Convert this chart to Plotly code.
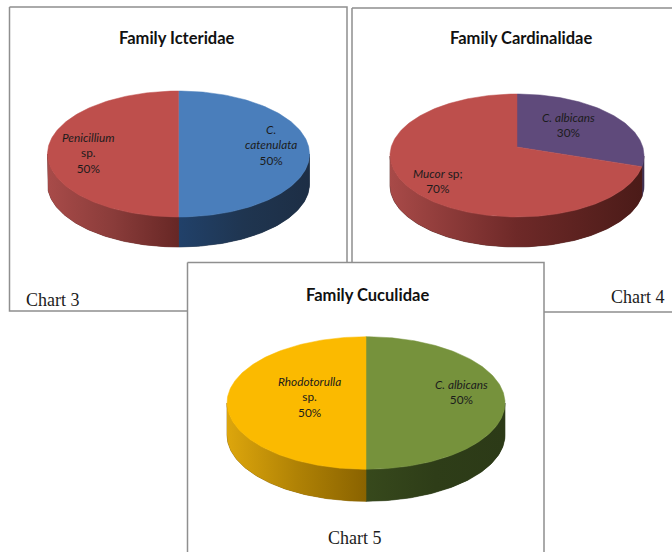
import math
import plotly.graph_objects as go

# ---------- data ----------
chart_titles = ["Family Icteridae", "Family Cardinalidae", "Family Cuculidae"]
chart_captions = ["Chart 3", "Chart 4", "Chart 5"]
icteridae_labels = ["C.<br>catenulata", "Penicillium<br>sp."]
icteridae_values = [50, 50]
cardinalidae_labels = ["C. albicans", "Mucor"]
cardinalidae_values = [30, 70]
cuculidae_labels = ["C. albicans", "Rhodotorulla<br>sp."]
cuculidae_values = [50, 50]

# ---------- styles and layout (page pixels) ----------
W, H = 672, 552
FRAME = "#8f8f8f"
TEXT = "#1c1c1c"
TITLE_FONT = "Lato"
SERIF = "Liberation Serif"

charts = [
    dict(frame=(9.5, 7, 347, 311), cx=178.5, cy=154, rx=131, ry=63, apex=154, depth=30,
         values=icteridae_values, colors=["#4A7EBB", "#BE4F4C"],
         walls=[["#21416A", "#1F3550", "#1D2E45"], ["#A84B49", "#8A3C3A", "#672725"]]),
    dict(frame=(352, 8, 680, 312), cx=517, cy=155.5, rx=127, ry=61.5, apex=147, depth=30,
         values=cardinalidae_values, colors=["#5F4A7B", "#BD4F4C"],
         walls=[["#4A3A60", "#3A2C4C"], ["#A84A48", "#6E2928", "#4B1B18"]]),
    dict(frame=(187.5, 262.5, 544, 560), cx=366, cy=403, rx=139, ry=66.3, apex=403, depth=32,
         values=cuculidae_values, colors=["#76923C", "#FBBA00"],
         walls=[["#37491C", "#2E3D18", "#2C3A17"], ["#DDA60C", "#B08205", "#8A6300"]]),
]


def rim_point(c, theta):
    """Point where a ray at pie angle theta (clockwise from top) leaves the ellipse."""
    dx, dy = math.sin(theta) * c["rx"], -math.cos(theta) * c["ry"]
    ox, oy = 0.0, c["apex"] - c["cy"]
    A = (dx / c["rx"]) ** 2 + (dy / c["ry"]) ** 2
    B = 2 * (ox * dx / c["rx"] ** 2 + oy * dy / c["ry"] ** 2)
    C = (ox / c["rx"]) ** 2 + (oy / c["ry"]) ** 2 - 1
    t = (-B + math.sqrt(B * B - 4 * A * C)) / (2 * A)
    return c["cx"] + ox + t * dx, c["cy"] + oy + t * dy


def poly(xs, ys, **kw):
    return go.Scatter(x=xs, y=ys, mode="lines", fill="toself", hoverinfo="skip",
                      showlegend=False, **kw)


def scale(cols):
    return [[i / (len(cols) - 1), col] for i, col in enumerate(cols)]


fig = go.Figure()

for c in charts:
    x0, y0, x1, y1 = c["frame"]
    fig.add_trace(poly([x0, x1, x1, x0, x0], [y0, y0, y1, y1, y0],
                       fillcolor="white", line=dict(color=FRAME, width=1.5)))
    total = sum(c["values"])
    start = 0.0
    arcs = []
    for v in c["values"]:
        end = start + v / total * 2 * math.pi
        n = max(8, int(v * 3))
        arcs.append([rim_point(c, start + (end - start) * i / n) for i in range(n + 1)])
        start = end
    # side walls first: a dark backing closes the seam between neighbouring gradients
    for arc, cols in zip(arcs, c["walls"]):
        low = [p for p in arc if p[1] >= c["cy"]]
        if len(low) < 2:
            continue
        xs = [p[0] for p in low] + [p[0] for p in reversed(low)]
        ys = [p[1] for p in low] + [p[1] + c["depth"] for p in reversed(low)]
        xs.append(xs[0]); ys.append(ys[0])
        fig.add_trace(poly(xs, ys, fillcolor=cols[-1], line=dict(color=cols[-1], width=0.6)))
        fig.add_trace(poly(xs, ys, line=dict(width=0),
                           fillgradient=dict(type="horizontal", colorscale=scale(cols))))
    # top faces
    for arc, col in zip(arcs, c["colors"]):
        xs = [c["cx"]] + [p[0] for p in arc] + [c["cx"]]
        ys = [c["apex"]] + [p[1] for p in arc] + [c["apex"]]
        fig.add_trace(poly(xs, ys, fillcolor=col, line=dict(color=col, width=0.5)))


def label(x, y, text, size=11.8, family=TITLE_FONT, color=TEXT, anchor="center"):
    fig.add_annotation(x=x, y=y, text=text, showarrow=False, xanchor=anchor, yanchor="middle",
                       align="center", font=dict(family=family, size=size, color=color))


# titles
label(177, 38, f"<b>{chart_titles[0]}</b>", size=16.5, color="#111111")
label(521, 38, f"<b>{chart_titles[1]}</b>", size=16.5, color="#111111")
label(367, 295, f"<b>{chart_titles[2]}</b>", size=16.5, color="#111111")

# slice labels
label(88, 153, f"<i>{icteridae_labels[1].split('<br>')[0]}</i><br>sp.<br>{icteridae_values[1]}%")
label(271, 145, f"<i>C.</i><br><i>catenulata</i><br>{icteridae_values[0]}%")
label(568, 125, f"<i>{cardinalidae_labels[0]}</i><br>{cardinalidae_values[0]}%")
label(438, 181, f"<i>{cardinalidae_labels[1]}</i> sp;<br>{cardinalidae_values[1]}%")
label(309, 397, f"<i>{cuculidae_labels[1].split('<br>')[0]}</i><br>sp.<br>{cuculidae_values[1]}%")
label(461, 392, f"<i>{cuculidae_labels[0]}</i><br>{cuculidae_values[0]}%")

# captions
label(24, 300, chart_captions[0], size=18, family=SERIF, anchor="left")
label(609, 297, chart_captions[1], size=18, family=SERIF, anchor="left")
label(326, 538, chart_captions[2], size=18, family=SERIF, anchor="left")

fig.update_layout(
    width=W, height=H, margin=dict(l=0, r=0, t=0, b=0, pad=0),
    paper_bgcolor="white", plot_bgcolor="white", showlegend=False,
    xaxis=dict(range=[0, W], visible=False, fixedrange=True),
    yaxis=dict(range=[H, 0], visible=False, fixedrange=True),
)
fig.write_html("out.html", config={"displayModeBar": False},
               post_script="document.body.style.margin='0';document.body.style.overflow='hidden';")
